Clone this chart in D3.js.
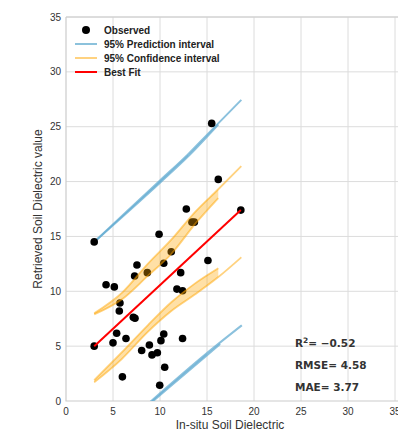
<!DOCTYPE html>
<html>
<head>
<meta charset="utf-8">
<script src="https://cdn.jsdelivr.net/npm/d3@7"></script>
<style>
  body { margin: 0; background: #fff; }
  svg { display: block; font-family: "Liberation Sans", Arial, sans-serif; }
</style>
</head>
<body>
<svg id="chart" width="398" height="433"></svg>
<script>
// observed points (in-situ vs retrieved)
const obsX = [3.0, 3.0, 4.26, 5.14, 5.74, 5.67, 5.39, 5.0, 6.0, 6.38, 7.16, 7.34, 7.3, 7.55, 8.65,
  8.05, 8.87, 9.15, 9.72, 9.9, 9.97, 10.1, 10.4, 10.4, 10.5, 11.2, 11.8, 12.2, 12.4, 12.4,
  12.8, 13.4, 13.65, 15.1, 15.5, 16.2, 18.6];
const obsY = [14.5, 5.0, 10.6, 10.4, 8.93, 8.2, 6.17, 5.3, 2.2, 5.7, 7.63, 7.54, 11.4, 12.4, 11.7,
  4.6, 5.1, 4.2, 4.4, 15.2, 1.43, 5.5, 6.1, 12.55, 3.07, 13.6, 10.2, 11.7, 10.05, 5.7,
  17.5, 16.3, 16.3, 12.8, 25.3, 20.2, 17.4];

// best fit
const fitX = [3.0, 18.6];
const fitY = [5.0, 17.4];

// prediction interval strands
const piUpX1 = [3, 10, 13, 15.1, 18.65];
const piUpY1 = [14.5, 20.1, 22.5, 24.35, 27.45];
const piUpX2 = [3, 10, 13, 16.2];
const piUpY2 = [14.5, 19.9, 22.3, 25.2];
const piLoX1 = [3, 8.94, 14.97, 18.7];
const piLoY1 = [-4.7, -0.1, 4.35, 6.9];
const piLoX2 = [3, 8.94, 14.97, 16.4];
const piLoY2 = [-4.8, -0.25, 4.15, 5.2];

// confidence interval strands
const ciUpX1 = [3, 6, 8.7, 11.2, 13.7, 16.2, 18.65];
const ciUpY1 = [8.0, 9.9, 12.5, 14.7, 17.2, 19.3, 21.4];
const ciUpX2 = [3, 6, 8.7, 11.2, 13.7, 16.2];
const ciUpY2 = [7.9, 9.3, 11.4, 13.4, 16.1, 18.5];
const ciLoX1 = [3, 5.9, 8.7, 11.2, 13.7, 16.2];
const ciLoY1 = [1.9, 4.4, 6.9, 9.0, 10.7, 12.1];
const ciLoX2 = [3, 5.9, 8.7, 11.2, 13.7, 16.2, 18.65];
const ciLoY2 = [1.7, 3.8, 6.3, 8.2, 9.7, 11.3, 13.1];

const ticks = [0, 5, 10, 15, 20, 25, 30, 35];
const legendLabels = ["Observed", "95% Prediction interval", "95% Confidence interval", "Best Fit"];
const stats = [["R", "2", "= \u22120.52"], ["RMSE= 4.58"], ["MAE= 3.77"]];

const svg = d3.select("#chart");
const x = d3.scaleLinear().domain([0, 35]).range([66, 395]);
const y = d3.scaleLinear().domain([0, 35]).range([401, 17]);

svg.append("rect").attr("width", 398).attr("height", 433).attr("fill", "#fff");

svg.append("defs").append("clipPath").attr("id", "plot")
  .append("rect").attr("x", 66).attr("y", 17).attr("width", 332).attr("height", 384);

// grid
const grid = svg.append("g").attr("stroke", "#dcdcdc").attr("stroke-width", 1);
grid.selectAll(".gx").data(ticks.slice(1)).join("line")
  .attr("x1", d => x(d)).attr("x2", d => x(d)).attr("y1", 17).attr("y2", 401);
grid.selectAll(".gy").data(ticks.slice(1)).join("line")
  .attr("y1", d => y(d)).attr("y2", d => y(d)).attr("x1", 66).attr("x2", 398);

// spines
svg.append("path").attr("d", "M66,17V401H398M66,17H398")
  .attr("fill", "none").attr("stroke", "#cccccc").attr("stroke-width", 1.2);

// tick labels
svg.selectAll(".xt").data(ticks).join("text")
  .attr("x", d => x(d)).attr("y", 415).attr("text-anchor", "middle")
  .attr("font-size", 10).attr("fill", "#333").text(d => d);
svg.selectAll(".yt").data(ticks).join("text")
  .attr("x", 61).attr("y", d => y(d) + 3.5).attr("text-anchor", "end")
  .attr("font-size", 10).attr("fill", "#333").text(d => d);

// axis titles
svg.append("text").attr("x", 230).attr("y", 429).attr("text-anchor", "middle")
  .attr("font-size", 12).attr("fill", "#333").text("In-situ Soil Dielectric");
svg.append("text").attr("transform", "translate(42,209) rotate(-90)").attr("text-anchor", "middle")
  .attr("font-size", 12).attr("fill", "#333").text("Retrieved Soil Dielectric value");

const plot = svg.append("g").attr("clip-path", "url(#plot)");
const line = d3.line().x(d => x(d[0])).y(d => y(d[1])).curve(d3.curveMonotoneX);
const zip = (a, b) => a.map((v, i) => [v, b[i]]);

function band(xs1, ys1, xs2, ys2, color, opacity, width) {
  // fill between the two strands where they share x positions
  let n = 0;
  while (n < xs1.length && n < xs2.length && xs1[n] === xs2[n]) n++;
  const pairs = xs1.slice(0, n).map((v, i) => [v, ys1[i], ys2[i]]);
  const area = d3.area().x(d => x(d[0])).y0(d => y(d[2])).y1(d => y(d[1]))
    .curve(d3.curveMonotoneX);
  plot.append("path").attr("d", area(pairs))
    .attr("fill", color).attr("opacity", opacity * 0.7).attr("stroke", "none");
  [[xs1, ys1], [xs2, ys2]].forEach(([a, b]) => {
    plot.append("path").attr("d", line(zip(a, b)))
      .attr("fill", "none").attr("stroke", color).attr("stroke-width", width)
      .attr("opacity", opacity);
  });
}

// prediction interval
band(piUpX1, piUpY1, piUpX2, piUpY2, "#64acd2", 0.75, 2);
band(piLoX1, piLoY1, piLoX2, piLoY2, "#64acd2", 0.75, 2);

// observed
plot.selectAll("circle").data(zip(obsX, obsY)).join("circle")
  .attr("cx", d => x(d[0])).attr("cy", d => y(d[1])).attr("r", 3.8).attr("fill", "#000");

// confidence interval
band(ciUpX1, ciUpY1, ciUpX2, ciUpY2, "#ffa500", 0.5, 1.8);
band(ciLoX1, ciLoY1, ciLoX2, ciLoY2, "#ffa500", 0.5, 1.8);

// best fit
plot.append("path").attr("d", d3.line().x(d => x(d[0])).y(d => y(d[1]))(zip(fitX, fitY)))
  .attr("fill", "none").attr("stroke", "red").attr("stroke-width", 2);

// legend
const leg = svg.append("g");
const legY = [30, 44, 58, 72];
leg.append("circle").attr("cx", 86).attr("cy", legY[0]).attr("r", 4).attr("fill", "#000");
const legStyles = [null, "#8cc2dc", "#ffd280", "red"];
legStyles.forEach((s, i) => {
  if (!s) return;
  leg.append("line").attr("x1", 75).attr("x2", 97).attr("y1", legY[i]).attr("y2", legY[i])
    .attr("stroke", s).attr("stroke-width", 2);
});
leg.selectAll("text").data(legendLabels).join("text")
  .attr("x", 104).attr("y", (d, i) => legY[i] + 3.5)
  .attr("font-size", 10).attr("font-weight", "bold").attr("fill", "#222").text(d => d);

// statistics
const st = svg.append("g").attr("font-family", "DejaVu Sans").attr("font-weight", "bold")
  .attr("font-size", 10.5).attr("fill", "#333");
const r2 = st.append("text").attr("x", 295).attr("y", 347);
r2.append("tspan").text(stats[0][0]);
r2.append("tspan").attr("dy", -4).attr("font-size", 7.5).text(stats[0][1]);
r2.append("tspan").attr("dy", 4).text(stats[0][2]);
st.append("text").attr("x", 295).attr("y", 369).text(stats[1][0]);
st.append("text").attr("x", 295).attr("y", 391).text(stats[2][0]);
</script>
</body>
</html>
